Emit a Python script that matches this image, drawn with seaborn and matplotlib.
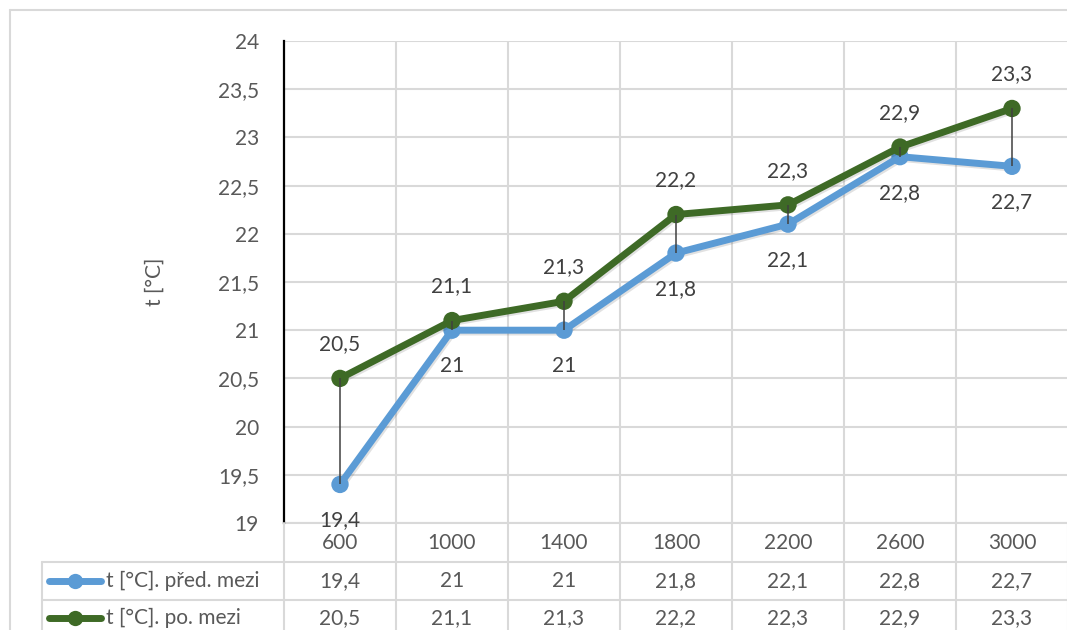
import matplotlib
matplotlib.use("Agg")
import matplotlib.pyplot as plt
import matplotlib.patheffects as pe
from matplotlib import transforms
from matplotlib.lines import Line2D
import seaborn as sns
import pandas as pd

# Data
categories = ["600", "1000", "1400", "1800", "2200", "2600", "3000"]
series_names = ["t [°C]. před. mezi", "t [°C]. po. mezi"]
t_pred = [19.4, 21.0, 21.0, 21.8, 22.1, 22.8, 22.7]
t_po = [20.5, 21.1, 21.3, 22.2, 22.3, 22.9, 23.3]
y_ticks = [19, 19.5, 20, 20.5, 21, 21.5, 22, 22.5, 23, 23.5, 24]
y_label = "t [°C]"

BLUE = "#5B9BD5"
GREEN = "#3E6A26"
GRID = "#D9D9D9"
TEXT = "#595959"
LABEL = "#404040"
FS = 15
LW = 5.0
MS = 12.5


def fmt(v):
    s = f"{v:.1f}".rstrip("0").rstrip(".")
    return s.replace(".", ",")


sns.set_theme(style="white")
plt.rcParams["font.family"] = ["Lato", "DejaVu Sans"]

W, H = 1067, 630
fig = plt.figure(figsize=(W / 100, H / 100), dpi=100)

# plot area in pixel terms
left_px, right_px, top_px, bottom_px = 284, 1068, 41, 523
ax = fig.add_axes([left_px / W, 1 - bottom_px / H,
                   (right_px - left_px) / W, (bottom_px - top_px) / H])

pos = list(range(len(categories)))
df = pd.DataFrame({
    "pos": pos * 2,
    "value": t_pred + t_po,
    "series": [series_names[0]] * len(pos) + [series_names[1]] * len(pos),
})

shadow = [pe.SimpleLineShadow(offset=(1.0, -1.3), shadow_color="k", alpha=0.13),
          pe.Normal()]
sns.lineplot(data=df, x="pos", y="value", hue="series",
             hue_order=series_names, palette=[BLUE, GREEN],
             marker="o", markersize=MS, markeredgewidth=0,
             linewidth=LW, legend=False, ax=ax, zorder=3,
             path_effects=shadow)

# drop lines between the two series
ax.vlines(pos, t_pred, t_po, colors="#404040", linewidth=1.1, zorder=5)

# data labels
for x, a, b in zip(pos, t_pred, t_po):
    ax.annotate(fmt(b), (x, b), xytext=(0, 24.5), textcoords="offset points",
                ha="center", va="center", fontsize=FS, color=LABEL, zorder=6)
    ax.annotate(fmt(a), (x, a), xytext=(0, -26), textcoords="offset points",
                ha="center", va="center", fontsize=FS, color=LABEL, zorder=6,
                annotation_clip=False)

ax.set_xlim(-0.5, len(categories) - 0.5)
ax.set_ylim(19, 24)
ax.set_yticks(y_ticks)
ax.set_yticklabels([fmt(v) for v in y_ticks], fontsize=FS, color=TEXT)
ax.set_xticks([])
ax.set_xticks([p + 0.5 for p in pos[:-1]], minor=True)
ax.tick_params(axis="x", which="minor", length=0)
ax.tick_params(axis="y", length=0, pad=18)
ax.grid(True, axis="y", color=GRID, linewidth=1.5)
ax.grid(True, axis="x", which="minor", color=GRID, linewidth=1.5)
ax.set_axisbelow(True)
ax.set_xlabel("")
ax.set_ylabel("")
for s in ["top", "right"]:
    ax.spines[s].set_visible(False)
ax.spines["bottom"].set_color(GRID)
ax.spines["bottom"].set_linewidth(1.5)
ax.spines["left"].set_color("black")
ax.spines["left"].set_linewidth(1.6)
ax.spines["left"].set_zorder(7)

fig.text(155 / W, 1 - 282 / H, y_label, rotation=90, ha="center", va="center",
         fontsize=FS, color=TEXT)

# data table below the plot
tb = transforms.blended_transform_factory(ax.transData, fig.transFigure)
fy = lambda px: 1 - px / H
fx = lambda px: px / W

row_y = [543, 581, 618]
for x, c, a, b in zip(pos, categories, t_pred, t_po):
    fig.text(x, fy(row_y[0]), c, transform=tb, ha="center", va="center",
             fontsize=FS, color=TEXT)
    fig.text(x, fy(row_y[1]), fmt(a), transform=tb, ha="center", va="center",
             fontsize=FS, color=TEXT)
    fig.text(x, fy(row_y[2]), fmt(b), transform=tb, ha="center", va="center",
             fontsize=FS, color=TEXT)

# table grid lines
for bx in [p - 0.5 for p in pos] + [pos[-1] + 0.5]:
    fig.add_artist(Line2D([bx, bx], [fy(523), 0], transform=tb,
                          color=GRID, linewidth=1.5))
for hy in [562, 600]:
    fig.add_artist(Line2D([fx(42), 1.0], [fy(hy), fy(hy)],
                          transform=fig.transFigure, color=GRID, linewidth=1.5))
fig.add_artist(Line2D([fx(42), fx(42)], [fy(562), 0],
                      transform=fig.transFigure, color=GRID, linewidth=1.5))

# legend keys inside the table
for name, col, yy in zip(series_names, [BLUE, GREEN], row_y[1:]):
    fig.add_artist(Line2D([fx(49), fx(101)], [fy(yy), fy(yy)],
                          transform=fig.transFigure, color=col, linewidth=LW,
                          solid_capstyle="round"))
    fig.add_artist(Line2D([fx(75)], [fy(yy)], transform=fig.transFigure,
                          color=col, marker="o", markersize=MS - 1.5,
                          markeredgewidth=0))
    fig.text(fx(106), fy(yy), name, ha="left", va="center",
             fontsize=FS, color=TEXT)

# chart frame
fig.add_artist(Line2D([fx(10), 1.0], [fy(10), fy(10)],
                      transform=fig.transFigure, color=GRID, linewidth=1.5))
fig.add_artist(Line2D([fx(10), fx(10)], [fy(10), 0],
                      transform=fig.transFigure, color=GRID, linewidth=1.5))

fig.savefig("out.png", dpi=100, facecolor="white")
